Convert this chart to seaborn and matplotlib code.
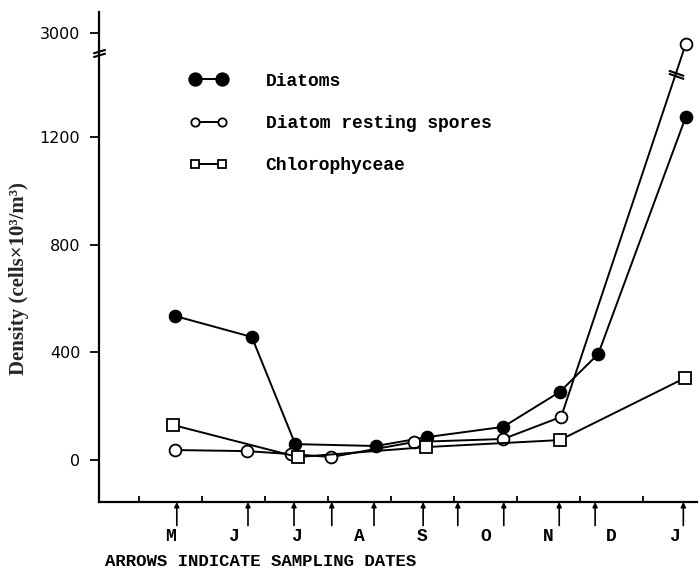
import matplotlib

matplotlib.use("Agg")
import matplotlib.pyplot as plt
import numpy as np
import seaborn as sns
from matplotlib.font_manager import FontProperties
from matplotlib.path import Path

# x positions are in months, 0 = start of May
month_labels = ["M", "J", "J", "A", "S", "O", "N", "D", "J"]
sampling_dates = [0.60, 1.73, 2.46, 3.06, 3.73, 4.51, 5.06, 5.79, 6.67, 7.24, 8.64]

diatoms_x = [0.57, 1.79, 2.48, 3.76, 4.57, 5.78, 6.68, 7.29, 8.68]
diatoms_y = [535, 457, 59, 52, 85, 123, 253, 394, 1275]

spores_x = [0.57, 1.71, 2.41, 3.05, 4.37, 5.78, 6.70, 8.68]
spores_y = [37, 33, 22, 11, 67, 78, 160, 2650]

chloro_x = [0.54, 2.52, 4.56, 6.68, 8.67]
chloro_y = [130, 11, 48, 74, 305]

y_ticks = [0, 400, 800, 1200, 3000]

# broken y axis: compress everything above BREAK
BREAK = 1400
SQUEEZE = 0.117


def fwd(v):
    v = np.asarray(v, dtype=float)
    return np.where(v <= BREAK, v, BREAK + (v - BREAK) * SQUEEZE)


def inv(t):
    t = np.asarray(t, dtype=float)
    return np.where(t <= BREAK, t, BREAK + (t - BREAK) / SQUEEZE)


sns.set_style("ticks", {"axes.edgecolor": "black", "text.color": "black",
                        "xtick.color": "black", "ytick.color": "black"})
plt.rcParams["font.family"] = ["DejaVu Sans"]
mono = FontProperties(family="Liberation Mono", weight="bold", size=13)

fig = plt.figure(figsize=(7, 5.74), dpi=100)
ax = fig.add_axes([99 / 700, 72 / 574, 598 / 700, 490 / 574])

series = [
    ("Diatoms", diatoms_x, diatoms_y, "o", "black"),
    ("Diatom resting spores", spores_x, spores_y, "o", "white"),
    ("Chlorophyceae", chloro_x, chloro_y, "s", "white"),
]
for name, xs, ys, mk, face in series:
    sns.lineplot(
        x=xs,
        y=ys,
        ax=ax,
        color="black",
        linewidth=1.4,
        marker=mk,
        markersize=8.5 if mk == "o" else 8,
        markerfacecolor=face,
        markeredgecolor="black",
        markeredgewidth=1.3,
        sort=False,
        estimator=None,
        label=name,
        zorder=3,
    )

ax.set_yscale("function", functions=(fwd, inv))
ax.set_ylim(-156, 3656)
ax.set_xlim(-0.635, 8.857)

sns.despine(ax=ax)
for side in ("left", "bottom"):
    ax.spines[side].set_linewidth(1.6)

ax.set_yticks(y_ticks)
ax.set_yticklabels([str(t) for t in y_ticks])
ax.yaxis.set_minor_locator(matplotlib.ticker.NullLocator())
ax.tick_params(axis="y", direction="out", length=6.5, width=1.3, pad=7, labelsize=11.5)

ax.set_xticks(np.arange(0, 9))
ax.set_xticklabels([])
ax.set_xticks(np.arange(len(month_labels)) + 0.5, minor=True)
ax.set_xticklabels(month_labels, minor=True, fontproperties=mono)
ax.tick_params(axis="x", which="major", direction="in", length=4, width=1.3)
ax.tick_params(axis="x", which="minor", length=0, pad=19)

ax.set_xlabel("")
ax.set_ylabel("Density (cells×10³/m³)", fontfamily="Liberation Serif", fontsize=15, fontweight="bold")
ax.yaxis.set_label_coords(-0.117, 0.457)

# sampling date arrows under the x axis
xtrans = ax.get_xaxis_transform()
for d in sampling_dates:
    ax.annotate(
        "",
        xy=(d, 0),
        xycoords=xtrans,
        xytext=(d, -0.048),
        textcoords=xtrans,
        arrowprops=dict(arrowstyle="-|>", color="black", lw=1.2, mutation_scale=7, shrinkA=0, shrinkB=0),
        annotation_clip=False,
    )

fig.text(105 / 700, 1 - 562 / 574, "ARROWS INDICATE SAMPLING DATES", fontproperties=FontProperties(
    family="Liberation Mono", weight="bold", size=12.5), va="center", ha="left")

# break marks
axis_break = Path([(-1, -0.6), (1, 0.0), (-1, 0.0), (1, 0.6)],
                  [Path.MOVETO, Path.LINETO, Path.MOVETO, Path.LINETO])
line_break = Path([(-1, 0.5), (1, -0.2), (-1, 0.1), (1, -0.6)],
                  [Path.MOVETO, Path.LINETO, Path.MOVETO, Path.LINETO])
ax.plot([0], [inv(1513)], transform=ax.get_yaxis_transform(), marker=axis_break,
        markersize=9, color="black", mew=1.5, clip_on=False, linestyle="none")
frac = 0.92
bx = spores_x[-2] + frac * (spores_x[-1] - spores_x[-2])
bt = fwd(spores_y[-2]) + frac * (fwd(spores_y[-1]) - fwd(spores_y[-2]))
ax.plot([bx], [inv(bt)], marker=line_break, markersize=11, color="black", mew=1.5,
        linestyle="none", zorder=4)

leg = ax.legend(
    loc="upper left",
    bbox_to_anchor=(0.152, 0.876),
    frameon=False,
    numpoints=2,
    prop=mono,
    handlelength=2.1,
    handletextpad=2.1,
    labelspacing=1.4,
    borderpad=0,
    borderaxespad=0,
)
for h, ms in zip(leg.legend_handles, [9, 6, 6]):
    h.set_markersize(ms)

fig.savefig("out.png", dpi=100)
